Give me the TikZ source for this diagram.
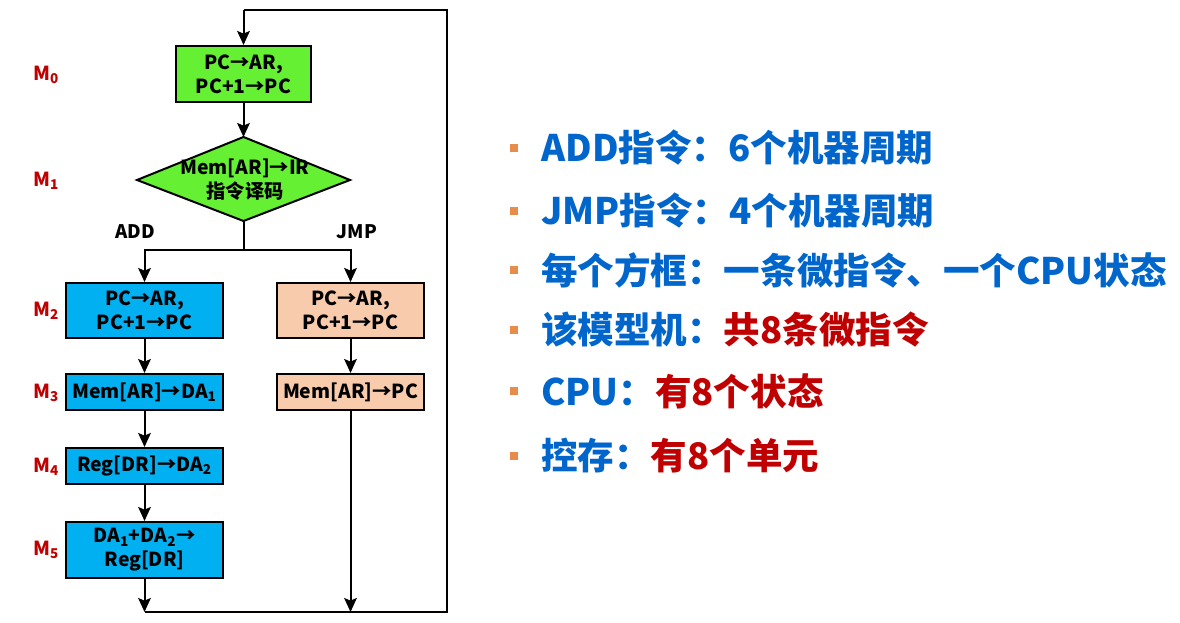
\documentclass[tikz,border=0pt]{standalone}
\usepackage{fontspec}
\setmainfont{Noto Sans CJK SC}
\usetikzlibrary{arrows.meta}
\definecolor{boxgreen}{RGB}{102,240,51}
\definecolor{boxblue}{RGB}{0,176,240}
\definecolor{boxpeach}{RGB}{248,203,173}
\definecolor{labred}{RGB}{192,0,0}
\definecolor{txtblue}{RGB}{0,102,204}
\definecolor{bulorange}{RGB}{232,140,75}
\newcommand{\lowx}[1]{\textsubscript{#1}}
\begin{document}
\begin{tikzpicture}[x=0.75pt,y=-0.75pt,
  box/.style={draw=black, line width=1.5pt, align=center, inner sep=0pt,
    font=\bfseries\fontsize{14.5}{18}\selectfont},
  lbox/.style={box, fill=boxblue, minimum width=117.75pt},
  rbox/.style={box, fill=boxpeach, minimum width=110.25pt},
  arr/.style={line width=1.5pt, -{Stealth[length=10.5pt,width=9.5pt,inset=2pt]}},
  ln/.style={line width=1.5pt},
  mlab/.style={text=labred, font=\bfseries\fontsize{14.5}{15}\selectfont},
  blab/.style={font=\bfseries\fontsize{14}{15}\selectfont},
  item/.style={anchor=west, inner sep=0pt, text=txtblue, font=\bfseries\fontsize{27.4}{30}\selectfont},
  bul/.style={fill=bulorange, minimum size=6.5pt, inner sep=0pt}]
\useasboundingbox (0,0) rectangle (1180,623);

% boxes
\node[box, fill=boxgreen, minimum width=101.25pt, minimum height=42pt] (m0) at (243.5,74) {PC→AR,\\PC+1→PC};
\coordinate (dt) at (243.5,137);
\coordinate (dr) at (350,180);
\coordinate (db) at (243.5,221);
\coordinate (dl) at (137,180);
\draw[line width=1.5pt, fill=boxgreen] (dt) -- (dr) -- (db) -- (dl) -- cycle;
\node[align=center, inner sep=0pt, font=\bfseries\fontsize{14.5}{18}\selectfont] (dtext) at (245,180) {Mem[AR]→IR\\指令译码};

\node[lbox, minimum height=41.25pt] (a2) at (144.5,310.5) {PC→AR,\\PC+1→PC};
\node[lbox, minimum height=27pt] (a3) at (144.5,392) {Mem[AR]→DA\lowx{1}};
\node[lbox, minimum height=27pt] (a4) at (144.5,466) {Reg[DR]→DA\lowx{2}};
\node[lbox, minimum height=42pt] (a5) at (144.5,550) {DA\lowx{1}+DA\lowx{2}→\\Reg[DR]};

\node[rbox, minimum height=41.25pt] (j2) at (350.5,310.5) {PC→AR,\\PC+1→PC};
\node[rbox, minimum height=27pt] (j3) at (350.5,392) {Mem[AR]→PC};

% labels
\node[mlab] (l0) at (46,75) {M\lowx{0}};
\node[mlab] (l1) at (46,181) {M\lowx{1}};
\node[mlab] (l2) at (46,311) {M\lowx{2}};
\node[mlab] (l3) at (46,393) {M\lowx{3}};
\node[mlab] (l4) at (46,467) {M\lowx{4}};
\node[mlab] (l5) at (46,550) {M\lowx{5}};
\node[blab] (ladd) at (135,232) {ADD};
\node[blab] (ljmp) at (357,232) {JMP};

% connectors
\coordinate (tl) at (243.5,10);
\coordinate (tr) at (447,10);
\coordinate (br) at (447,612);
\coordinate (bl) at (144.5,612);
\coordinate (bm) at (350.5,612);
\coordinate (sp) at (243.5,250);
\draw[ln] (bl) -- (br) -- (tr) -- (tl);
\draw[arr] (tl) -- (m0);
\draw[arr] (m0) -- (dt);
\draw[ln] (db) -- (sp);
\draw[arr] (sp) -| (a2);
\draw[arr] (sp) -| (j2);
\draw[arr] (a2) -- (a3);
\draw[arr] (a3) -- (a4);
\draw[arr] (a4) -- (a5);
\draw[arr] (a5) -- (bl);
\draw[arr] (j2) -- (j3);
\draw[arr] (j3) -- (bm);

% right side list
\foreach \yy/\nm in {148/b1,211/b2,270/b3,330/b4,391/b5,456/b6}
  \node[bul] (\nm) at (514,\yy) {};
\node[item] (t1) at (541,148) {ADD指令：6个机器周期};
\node[item] (t2) at (541,211) {JMP指令：4个机器周期};
\node[item] (t3) at (541,270) {每个方框：一条微指令、一个CPU状态};
\node[item] (t4) at (541,330) {该模型机：{\color{labred}共8条微指令}};
\node[item] (t5) at (541,391) {CPU：{\color{labred}有8个状态}};
\node[item] (t6) at (541,456) {控存：{\color{labred}有8个单元}};
\end{tikzpicture}
\end{document}
